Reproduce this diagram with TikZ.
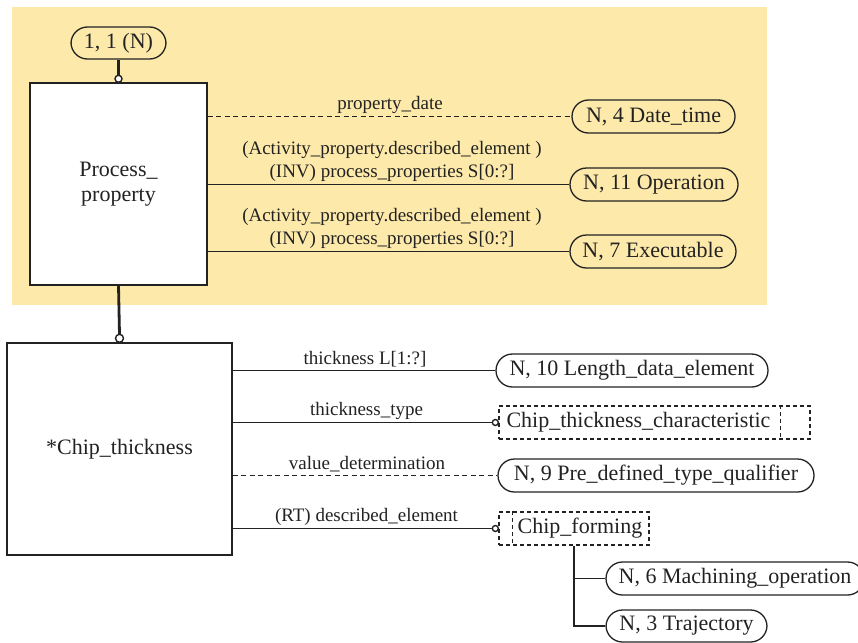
\documentclass[tikz,border=0pt]{standalone}
\usepackage{fontspec}
\setmainfont{Liberation Serif}
\usetikzlibrary{calc}
\definecolor{bandfill}{RGB}{253,233,170}
\definecolor{ink}{RGB}{34,34,34}

\begin{document}
\begin{tikzpicture}[x=1pt,y=-1pt,
  every node/.style={text=ink},
  entity/.style={draw=ink, line width=1.4pt, fill=white, inner sep=0,
    font=\fontsize{22}{25}\selectfont, align=center},
  ref/.style={draw=ink, line width=1.3pt, rounded corners=16.5pt, inner sep=0,
    minimum height=33pt, font=\fontsize{22}{25}\selectfont},
  pageref/.style={draw=ink, line width=1.3pt, dash pattern=on 4pt off 3pt, inner sep=0,
    minimum height=33pt, font=\fontsize{22}{25}\selectfont},
  rel/.style={font=\fontsize{19}{23}\selectfont, inner sep=1pt, anchor=south, align=center},
  link/.style={draw=ink, line width=1.4pt},
  optlink/.style={link, dash pattern=on 5pt off 3.5pt},
  tie/.style={draw=ink, line width=2.8pt},
  ring/.style={draw=ink, line width=1.4pt, fill=white}
]
\useasboundingbox (0,0) rectangle (858,642);

% shaded schema band
\fill[bandfill] (12,7) rectangle (767,305);

% entities
\node[entity, minimum width=177pt, minimum height=202pt] (pp) at (118.5,184) {Process\_\\property};
\node[entity, minimum width=225pt, minimum height=212pt] (ct) at (119.5,449) {*Chip\_thickness};

% references in the band
\node[ref, minimum width=95pt, minimum height=32pt] (one) at (118.5,43) {1, 1 (N)};
\node[ref, minimum width=163pt] (dt) at (653.5,116.5) {N, 4 Date\_time};
\node[ref, minimum width=168pt] (op) at (654,184.5) {N, 11 Operation};
\node[ref, minimum width=166pt] (ex) at (653,251.5) {N, 7 Executable};

% references below
\node[ref, minimum width=272pt] (len) at (632,370.5) {N, 10 Length\_data\_element};
\node[pageref, minimum width=311pt] (ctc) at (654.5,422.5) {Chip\_thickness\_characteristic\rule{32pt}{0pt}};
\node[ref, minimum width=316pt] (pdq) at (656,475.5) {N, 9 Pre\_defined\_type\_qualifier};
\node[pageref, minimum width=150pt] (cf) at (574,528.5) {\rule{12pt}{0pt}Chip\_forming};
\node[ref, minimum width=258pt] (mo) at (735,578.5) {N, 6 Machining\_operation};
\node[ref, minimum width=161pt, minimum height=32pt] (tr) at (686.5,626) {N, 3 Trajectory};

% inner partitions of the page-reference boxes
\draw[ink, line width=1.3pt, dash pattern=on 4pt off 3pt]
  ($(ctc.north east)+(-30,0)$) -- ($(ctc.south east)+(-30,0)$);
\draw[ink, line width=1.3pt, dash pattern=on 4pt off 3pt]
  ($(cf.north west)+(14,0)$) -- ($(cf.south west)+(14,0)$);

% supertype links
\draw[tie] (one.south) -- ($(pp.north)+(0,-7)$);
\draw[ring] ($(pp.north)+(0,-3.5)$) circle (3.5pt);
\draw[tie] (pp.south) -- ($(ct.north)+(0,-8)$);
\draw[ring] ($(ct.north)+(0,-4)$) circle (4pt);

% attributes of Process_property
\draw[optlink] (pp.east |- dt.west) -- (dt.west);
\draw[link] (pp.east |- op.west) -- (op.west);
\draw[link] (pp.east |- ex.west) -- (ex.west);
\node[rel] (l1) at (390,114.5) {property\_date};
\node[rel] (l2) at (392,182.5) {(Activity\_property.described\_element )\\(INV) process\_properties S[0:?]};
\node[rel] (l3) at (392,249.5) {(Activity\_property.described\_element )\\(INV) process\_properties S[0:?]};

% attributes of Chip_thickness
\draw[link] (ct.east |- len.west) -- (len.west);
\draw[link] (ct.east |- ctc.west) -- ($(ctc.west)+(-6,0)$);
\draw[ring] ($(ctc.west)+(-3,0)$) circle (3pt);
\draw[optlink] (ct.east |- pdq.west) -- (pdq.west);
\draw[link] (ct.east |- cf.west) -- ($(cf.west)+(-6,0)$);
\draw[ring] ($(cf.west)+(-3,0)$) circle (3pt);
\node[rel] (l4) at (365,368.5) {thickness L[1:?]};
\node[rel] (l5) at (366.5,420.5) {thickness\_type};
\node[rel] (l6) at (367,473.5) {value\_determination};
\node[rel] (l7) at (366.5,526.5) {(RT) described\_element};

% select type branches
\draw[link] (cf.south) |- (mo.west);
\draw[link] (cf.south) |- (tr.west);
\end{tikzpicture}
\end{document}
